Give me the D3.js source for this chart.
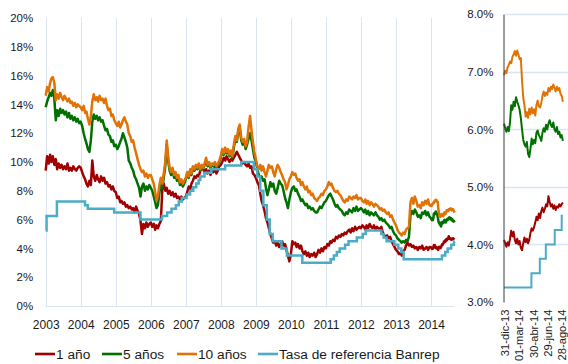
<!DOCTYPE html>
<html>
<head>
<meta charset="utf-8">
<script src="https://cdn.jsdelivr.net/npm/d3@7"></script>
<style>
  html, body { margin: 0; padding: 0; background: #fff; }
  svg { display: block; font-family: "Liberation Sans", Arial, sans-serif; }
</style>
</head>
<body>
<svg id="chart" width="568" height="364"></svg>
<script>
// ---- Series names and axis tick labels ----
const seriesNames = ["1 año", "5 años", "10 años", "Tasa de referencia Banrep"];
const yearLabels = ["2003", "2004", "2005", "2006", "2007", "2008", "2009", "2010", "2011", "2012", "2013", "2014"];
const mainPctTicks = [0, 2, 4, 6, 8, 10, 12, 14, 16, 18, 20];
const zoomPctTicks = [3, 4, 5, 6, 7, 8];
const zoomDateTicks = ["2013-12-31", "2014-03-01", "2014-04-30", "2014-06-29", "2014-08-28"];
const zoomDateLabels = ["31-dic-13", "01-mar-14", "30-abr-14", "29-jun-14", "28-ago-14"];

// ---- TES yields 2003-2013, two readings per month (1st and 16th), % ----
const tes1y = [
  9.4, 10.4, 9.9, 10.5, 10.0, 10.4, 9.8, 10.2, 9.5, 9.9, 9.6, 9.8, 9.5, 9.7, 9.5, 9.9, 9.4, 9.6, 9.4, 9.7, 9.5, 9.4, 9.6, 9.7,
  9.6, 9.3, 9.0, 8.8, 8.5, 8.3, 8.7, 8.4, 10.1, 9.0, 8.7, 9.1, 8.8, 8.6, 9.0, 8.7, 8.9, 8.5, 8.6, 8.3, 8.4, 8.1, 8.3, 8.0,
  7.9, 7.5, 7.6, 7.2, 7.3, 7.1, 7.2, 6.9, 7.0, 6.8, 6.9, 6.7, 6.8, 6.5, 6.9, 6.6, 6.4, 5.9, 5.0, 5.7, 5.4, 5.8, 5.5, 5.7,
  5.8, 5.5, 5.7, 5.3, 5.6, 5.4, 5.7, 5.9, 8.1, 8.5, 8.0, 8.2, 7.8, 8.0, 7.7, 7.9, 7.6, 7.8, 7.5, 7.6, 7.4, 7.6, 7.4, 7.5,
  7.6, 7.9, 8.3, 8.1, 8.5, 8.7, 9.0, 8.9, 9.1, 9.0, 9.4, 9.6, 9.5, 9.3, 9.5, 9.2, 9.4, 9.1, 9.5, 9.3, 9.6, 9.2, 9.4, 9.7,
  9.8, 10.0, 10.3, 10.1, 10.4, 10.2, 10.0, 10.2, 10.1, 10.3, 10.5, 10.7, 10.5, 10.3, 10.1, 9.9, 10.0, 9.8, 9.7, 9.9, 9.6, 9.7, 9.2, 9.1,
  8.9, 8.6, 8.4, 7.8, 7.3, 7.0, 6.6, 6.1, 5.8, 5.4, 5.0, 4.7, 4.4, 4.5, 4.2, 4.4, 4.1, 4.3, 4.5, 4.2, 4.3, 3.9, 3.5, 3.1,
  3.6, 4.5, 4.3, 4.4, 4.1, 4.3, 4.0, 4.2, 3.8, 3.6, 3.8, 3.5, 3.7, 3.4, 3.6, 3.5, 3.7, 3.4, 3.6, 3.9, 3.7, 4.0, 3.8, 4.1,
  4.0, 4.3, 4.2, 4.5, 4.4, 4.6, 4.5, 4.8, 4.7, 4.9, 4.8, 5.0, 4.9, 5.1, 5.0, 5.2, 5.3, 5.1, 5.4, 5.2, 5.5, 5.3, 5.4, 5.5,
  5.4, 5.6, 5.5, 5.3, 5.6, 5.4, 5.7, 5.5, 5.4, 5.6, 5.3, 5.5, 5.4, 5.3, 5.5, 5.1, 4.9, 4.8, 4.9, 4.7, 4.8, 4.5, 4.3, 4.1,
  3.9, 3.8, 3.6, 3.7, 3.5, 3.8, 3.9, 4.2, 4.4, 4.2, 4.3, 4.1, 4.2, 4.0, 4.1, 3.9, 4.1, 4.0, 4.2, 3.9, 4.0, 4.1, 3.9, 4.1
];
const tes5y = [
  13.8, 14.2, 14.5, 14.8, 14.6, 15.0, 14.4, 12.9, 13.6, 13.2, 13.7, 13.4, 13.6, 13.3, 13.5, 13.1, 13.4, 13.0, 13.2, 12.9, 13.1, 12.8, 13.0, 12.7,
  12.8, 12.5, 12.0, 11.6, 11.3, 10.9, 10.7, 11.5, 12.8, 13.3, 13.0, 13.2, 12.9, 13.1, 12.8, 12.9, 12.5, 12.2, 12.3, 11.9, 11.8, 11.4, 11.5, 11.1,
  11.2, 10.9, 11.1, 11.4, 11.6, 12.0, 11.7, 11.4, 11.0, 10.1, 9.9, 9.6, 9.4, 9.0, 8.8, 8.5, 8.2, 7.6, 8.3, 8.5, 8.0, 8.3, 8.1, 8.4,
  8.2, 8.0, 7.6, 7.2, 6.8, 7.0, 7.9, 8.5, 8.2, 8.9, 9.7, 11.2, 10.1, 9.4, 9.1, 9.4, 8.9, 9.1, 8.7, 8.9, 8.4, 8.6, 8.3, 8.5,
  8.8, 9.2, 8.9, 9.4, 9.1, 9.6, 9.4, 9.7, 9.5, 9.8, 9.4, 9.7, 9.5, 9.8, 10.1, 9.7, 9.9, 9.6, 9.8, 9.7, 9.9, 9.6, 9.8, 10.0,
  10.3, 10.8, 10.5, 10.9, 10.6, 10.8, 10.4, 10.7, 10.3, 11.0, 11.6, 11.4, 12.1, 12.4, 11.5, 11.2, 11.4, 10.9, 11.2, 11.6, 12.0, 11.5, 10.9, 10.3,
  10.0, 9.5, 9.1, 8.9, 9.0, 8.7, 8.8, 8.2, 7.7, 8.1, 8.6, 8.3, 8.5, 8.0, 7.8, 8.2, 8.7, 8.5, 8.4, 8.0, 7.5, 7.2, 6.8, 7.4,
  7.9, 8.2, 8.3, 8.0, 8.1, 7.8, 7.6, 7.3, 7.4, 7.2, 7.0, 7.1, 6.8, 6.9, 6.7, 6.8, 6.6, 6.5, 6.5, 6.7, 6.9, 6.8, 7.0, 7.2,
  7.3, 7.5, 7.7, 7.8, 7.6, 7.4, 7.1, 6.9, 7.0, 6.8, 6.7, 6.6, 6.4, 6.3, 6.5, 6.4, 6.7, 6.6, 6.5, 6.8, 6.6, 6.9, 6.6, 6.7,
  6.8, 6.7, 6.5, 6.7, 6.4, 6.6, 6.3, 6.5, 6.4, 6.3, 6.5, 6.3, 6.2, 6.0, 6.1, 5.9, 6.0, 5.8, 5.7, 5.6, 5.4, 5.5, 5.2, 5.0,
  4.9, 4.7, 4.6, 4.5, 4.4, 4.5, 4.4, 4.6, 4.5, 4.8, 6.3, 6.6, 6.4, 6.7, 6.5, 6.2, 6.3, 6.1, 6.5, 6.4, 6.6, 6.3, 6.5, 6.2
];
const tes10y = [
  14.6, 15.2, 14.9, 15.5, 15.8, 15.9, 15.5, 14.3, 14.7, 14.4, 14.8, 14.5, 14.3, 14.6, 14.4, 14.2, 14.4, 14.1, 14.2, 13.9, 14.1, 13.8, 14.0, 13.9,
  13.8, 13.6, 13.9, 13.4, 13.5, 13.0, 12.6, 13.2, 14.2, 14.7, 14.3, 14.5, 14.2, 14.6, 14.3, 14.4, 14.1, 14.4, 13.9, 13.6, 13.7, 13.2, 13.3, 12.9,
  12.7, 12.5, 12.8, 12.4, 12.6, 12.9, 13.1, 12.8, 12.6, 12.0, 11.8, 11.4, 11.5, 11.0, 10.6, 10.2, 9.8, 9.5, 9.3, 9.4, 9.0, 9.2, 8.9, 9.1,
  9.1, 8.8, 8.5, 7.9, 7.3, 7.6, 8.4, 8.9, 8.5, 9.2, 10.0, 11.5, 10.4, 9.6, 9.3, 9.6, 9.1, 9.3, 8.9, 9.1, 8.6, 8.8, 8.5, 8.7,
  8.9, 9.3, 9.0, 9.5, 9.2, 9.7, 9.5, 9.8, 9.6, 9.9, 9.5, 9.8, 9.6, 9.9, 10.3, 9.8, 10.0, 9.7, 9.9, 9.8, 10.0, 9.7, 9.9, 10.1,
  10.4, 10.9, 10.6, 11.0, 10.7, 10.9, 10.5, 10.8, 10.4, 11.2, 11.8, 11.5, 12.3, 12.6, 11.7, 11.4, 11.6, 11.1, 11.4, 12.4, 13.2, 12.2, 11.4, 10.7,
  10.2, 9.7, 9.5, 9.8, 9.4, 9.7, 9.3, 9.0, 9.4, 9.8, 9.6, 9.7, 9.3, 9.0, 9.5, 9.8, 9.6, 9.3, 9.1, 8.8, 8.6, 8.1, 8.4, 8.8,
  9.0, 9.3, 9.1, 9.2, 8.9, 8.7, 8.8, 8.4, 8.6, 8.3, 8.1, 8.3, 7.9, 8.0, 7.7, 7.8, 7.5, 7.4, 7.3, 7.5, 7.6, 7.8, 7.7, 8.0,
  8.1, 8.3, 8.6, 8.4, 8.5, 8.2, 8.0, 7.9, 8.0, 7.8, 7.7, 7.5, 7.3, 7.2, 7.4, 7.3, 7.6, 7.5, 7.4, 7.6, 7.5, 7.7, 7.4, 7.5,
  7.5, 7.3, 7.2, 7.4, 7.1, 7.3, 7.0, 7.2, 7.1, 6.9, 7.1, 7.0, 6.9, 6.7, 6.8, 6.6, 6.7, 6.5, 6.4, 6.5, 6.2, 6.3, 6.0, 5.8,
  5.6, 5.3, 5.1, 5.0, 4.9, 5.1, 5.0, 5.3, 5.4, 5.5, 7.2, 7.5, 7.1, 7.6, 7.3, 6.9, 7.0, 6.8, 7.2, 7.0, 7.3, 7.1, 7.4, 7.0
];

// ---- TES yields 2014, one reading every 5 days from 1 Jan, % ----
const tes1y2014 = [
  4.08, 4.02, 3.96, 4.04, 3.98, 4.10, 4.24, 4.14, 4.22, 4.08, 4.02, 4.10, 4.00, 4.06, 3.94, 3.90, 4.02, 4.12, 4.04, 4.10,
  4.02, 4.08, 4.20, 4.28, 4.24, 4.30, 4.38, 4.48, 4.42, 4.54, 4.46, 4.58, 4.64, 4.56, 4.62, 4.70, 4.66, 4.84, 4.74, 4.66,
  4.70, 4.62, 4.68, 4.60, 4.66, 4.64, 4.70, 4.66, 4.70, 4.73
];
const tes5y2014 = [
  6.10, 6.02, 5.96, 6.04, 5.97, 6.12, 6.42, 6.34, 6.48, 6.40, 6.56, 6.48, 6.42, 6.34, 6.20, 6.00, 5.82, 5.74, 5.70, 5.78,
  5.58, 5.52, 5.66, 5.84, 5.74, 5.82, 5.76, 5.94, 5.98, 5.90, 5.86, 5.80, 5.94, 6.02, 5.96, 6.08, 6.00, 6.10, 6.16, 6.08,
  6.04, 6.12, 6.00, 5.96, 6.04, 5.92, 5.96, 5.86, 5.90, 5.80
];
const tes10y2014 = [
  6.94, 7.02, 6.98, 7.08, 7.12, 7.18, 7.15, 7.26, 7.30, 7.36, 7.28, 7.37, 7.30, 7.22, 7.24, 6.85, 6.55, 6.42, 6.22, 6.30,
  6.20, 6.36, 6.26, 6.38, 6.28, 6.35, 6.24, 6.42, 6.50, 6.40, 6.38, 6.46, 6.58, 6.66, 6.58, 6.64, 6.60, 6.72, 6.66, 6.74,
  6.70, 6.78, 6.72, 6.66, 6.74, 6.68, 6.72, 6.62, 6.58, 6.48
];

// ---- Banco de la República policy rate: dates of change and new level, % ----
const banrepDates = [
  "2003-01-01", "2003-01-10", "2003-04-28", "2004-02-15", "2004-03-15", "2004-12-15", "2005-09-15",
  "2006-04-28", "2006-06-20", "2006-08-05", "2006-09-20", "2006-10-20", "2006-11-20",
  "2007-01-10", "2007-02-15", "2007-03-20", "2007-04-20", "2007-05-15", "2007-06-01", "2007-07-15", "2007-09-25",
  "2008-02-15", "2008-08-01", "2008-12-10",
  "2009-01-15", "2009-02-15", "2009-03-20", "2009-04-25", "2009-05-25", "2009-06-25", "2009-09-25", "2009-11-20",
  "2010-04-30",
  "2011-02-20", "2011-03-25", "2011-04-25", "2011-05-25", "2011-07-20", "2011-08-25", "2011-11-20",
  "2012-01-20", "2012-02-20", "2012-08-01", "2012-08-25", "2012-09-25", "2012-12-15",
  "2013-01-25", "2013-02-25", "2013-03-22",
  "2014-04-25", "2014-05-30", "2014-06-24", "2014-07-31", "2014-08-29", "2014-09-03"
];
const banrepRates = [
  5.25, 6.25, 7.25, 7.0, 6.75, 6.5, 6.0,
  6.25, 6.5, 6.75, 7.0, 7.25, 7.5,
  7.75, 8.0, 8.25, 8.5, 8.75, 9.0, 9.25, 9.5,
  9.75, 10.0, 9.5,
  9.0, 8.0, 7.0, 6.0, 5.0, 4.5, 4.0, 3.5,
  3.0,
  3.25, 3.5, 3.75, 4.0, 4.25, 4.5, 4.75,
  5.0, 5.25, 5.0, 4.75, 4.5, 4.25,
  4.0, 3.75, 3.25,
  3.5, 3.75, 4.0, 4.25, 4.5, 4.5
];

// ---- Styles ----
const colors = ["#a00000", "#007000", "#e07206", "#4bacc6"];
const gridColor = "#dbe5f1";
const textColor = "#1a1a1a";
const fontStack = "Liberation Sans, Arial, sans-serif";

// ---- Date helpers ----
const parse = d3.timeParse("%Y-%m-%d");
const histDates = d3.range(tes1y.length).map(i =>
  new Date(2003 + Math.floor(i / 24), Math.floor((i % 24) / 2), i % 2 ? 16 : 1));
const recentDates = d3.range(tes1y2014.length).map(k => d3.timeDay.offset(new Date(2014, 0, 1), 5 * k));
const zip = (dates, vals) => dates.map((d, i) => ({ date: d, value: vals[i] }));

const fullSeries = [
  zip(histDates.concat(recentDates), tes1y.concat(tes1y2014)),
  zip(histDates.concat(recentDates), tes5y.concat(tes5y2014)),
  zip(histDates.concat(recentDates), tes10y.concat(tes10y2014))
];
const recentSeries = [
  zip(recentDates, tes1y2014),
  zip(recentDates, tes5y2014),
  zip(recentDates, tes10y2014)
];
const banrep = zip(banrepDates.map(parse), banrepRates);

const svg = d3.select("#chart");

// ================= Main chart: 2003-2014 =================
const mx = d3.scaleTime()
  .domain([new Date(2003, 0, 1), new Date(2014, 0, 1)])
  .range([45.7, 431]);
const my = d3.scaleLinear().domain([0, 20]).range([306, 18]);
const mainRight = mx(parse("2014-09-03"));

const main = svg.append("g");

// vertical year gridlines
main.append("g").selectAll("line")
  .data(yearLabels)
  .join("line")
  .attr("x1", d => Math.round(mx(new Date(+d, 0, 1))) + 0.5)
  .attr("x2", d => Math.round(mx(new Date(+d, 0, 1))) + 0.5)
  .attr("y1", my(20))
  .attr("y2", my(0))
  .attr("stroke", gridColor)
  .attr("stroke-width", 1);

// baseline at 0%
main.append("line")
  .attr("x1", mx.range()[0]).attr("x2", mainRight)
  .attr("y1", Math.round(my(0)) + 0.5).attr("y2", Math.round(my(0)) + 0.5)
  .attr("stroke", gridColor).attr("stroke-width", 1.2);

// x axis (years)
const xAxisMain = main.append("g")
  .attr("transform", `translate(0,${my(0)})`)
  .call(d3.axisBottom(mx)
    .tickValues(yearLabels.map(y => new Date(+y, 0, 1)))
    .tickFormat(d3.timeFormat("%Y"))
    .tickSize(0)
    .tickPadding(14));
xAxisMain.select(".domain").remove();
xAxisMain.selectAll("text")
  .attr("fill", textColor)
  .style("font-size", "12px")
  .style("font-family", fontStack);

// y axis (percent)
const yAxisMain = main.append("g")
  .attr("transform", `translate(${mx.range()[0]},0)`)
  .call(d3.axisLeft(my)
    .tickValues(mainPctTicks)
    .tickFormat(d => d + "%")
    .tickSize(0)
    .tickPadding(12.5));
yAxisMain.select(".domain").remove();
yAxisMain.selectAll("text")
  .attr("fill", textColor)
  .style("font-size", "11.5px")
  .style("font-family", fontStack);

const mainLine = d3.line().x(d => mx(d.date)).y(d => my(d.value));
const mainStep = d3.line().curve(d3.curveStepAfter).x(d => mx(d.date)).y(d => my(d.value));

fullSeries.forEach((s, i) => {
  main.append("path")
    .datum(s)
    .attr("fill", "none")
    .attr("stroke", colors[i])
    .attr("stroke-width", 2.5)
    .attr("stroke-linejoin", "round")
    .attr("d", mainLine);
});
main.append("path")
  .datum(banrep)
  .attr("fill", "none")
  .attr("stroke", colors[3])
  .attr("stroke-width", 2.5)
  .attr("d", mainStep);

// ================= Inset chart: 2014 =================
const rx = d3.scaleTime()
  .domain([new Date(2014, 0, 1), parse("2014-09-03")])
  .range([504, 562.9]);
const ry = d3.scaleLinear().domain([3, 8]).range([302, 14.3]);
const axisX = 503.5;

const inset = svg.append("g");

// horizontal gridlines
inset.append("g").selectAll("line")
  .data(zoomPctTicks.filter(v => v > 3))
  .join("line")
  .attr("x1", axisX).attr("x2", 568)
  .attr("y1", d => Math.round(ry(d)) + 0.5)
  .attr("y2", d => Math.round(ry(d)) + 0.5)
  .attr("stroke", gridColor)
  .attr("stroke-width", 1.4);

const recentLine = d3.line().x(d => rx(d.date)).y(d => ry(d.value));
const recentStep = d3.line().curve(d3.curveStepAfter).x(d => rx(d.date)).y(d => ry(d.value));

recentSeries.forEach((s, i) => {
  inset.append("path")
    .datum(s)
    .attr("fill", "none")
    .attr("stroke", colors[i])
    .attr("stroke-width", 2)
    .attr("stroke-linejoin", "round")
    .attr("d", recentLine);
});
const banrep2014 = [{ date: new Date(2014, 0, 1), value: 3.25 }]
  .concat(banrep.filter(d => d.date >= new Date(2014, 0, 1)));
inset.append("path")
  .datum(banrep2014)
  .attr("fill", "none")
  .attr("stroke", colors[3])
  .attr("stroke-width", 2)
  .attr("d", recentStep);

// y axis (with dark axis line)
const yAxisInset = inset.append("g")
  .attr("transform", `translate(${axisX},0)`)
  .call(d3.axisLeft(ry)
    .tickValues(zoomPctTicks)
    .tickFormat(d => d3.format(".1f")(d) + "%")
    .tickSize(0)
    .tickSizeOuter(0)
    .tickPadding(10));
yAxisInset.select(".domain").attr("stroke", "#3a3a3a").attr("stroke-width", 1);
yAxisInset.selectAll("text")
  .attr("fill", textColor)
  .style("font-size", "11.5px")
  .style("font-family", fontStack);

// x axis with rotated date labels, kept inside the bottom edge
const xAxisInset = inset.append("g")
  .attr("transform", `translate(0,${ry(3)})`)
  .call(d3.axisBottom(rx)
    .tickValues(zoomDateTicks.map(parse))
    .tickFormat((d, i) => zoomDateLabels[i])
    .tickSize(0));
xAxisInset.select(".domain").remove();
xAxisInset.selectAll("text")
  .attr("transform", "rotate(-90)")
  .attr("x", -7.5)
  .attr("y", 0.5)
  .attr("dy", "0.35em")
  .style("text-anchor", "end")
  .attr("fill", textColor)
  .style("font-size", "11.2px")
  .style("font-family", fontStack);

// ================= Legend =================
const legendItems = [
  { x: 35, tx: 56 },
  { x: 102, tx: 123 },
  { x: 177, tx: 198 },
  { x: 258, tx: 279 }
];
const legend = svg.append("g");
seriesNames.forEach((name, i) => {
  legend.append("line")
    .attr("x1", legendItems[i].x).attr("x2", legendItems[i].x + 20)
    .attr("y1", 354).attr("y2", 354)
    .attr("stroke", colors[i]).attr("stroke-width", 2.6);
  legend.append("text")
    .attr("x", legendItems[i].tx).attr("y", 358.8)
    .attr("fill", textColor)
    .style("font-size", "13.7px")
    .style("font-family", fontStack)
    .text(name);
});
</script>
</body>
</html>
